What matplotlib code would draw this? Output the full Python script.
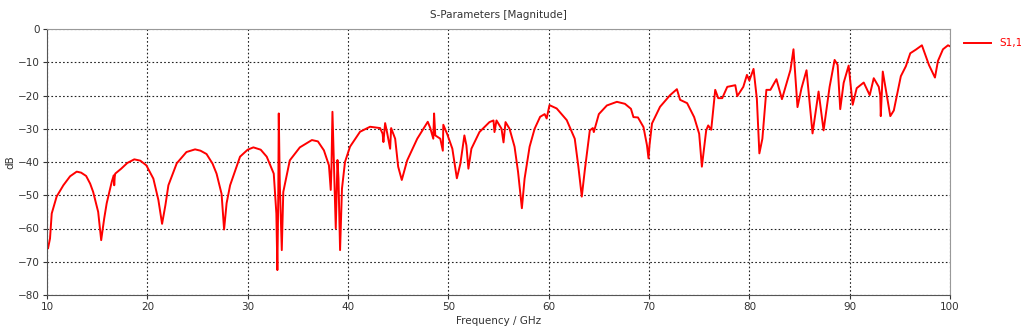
import matplotlib
matplotlib.use("Agg")
import matplotlib.pyplot as plt

# S11 magnitude sweep, frequency in GHz and return loss in dB
freq = [10.0, 10.1, 10.3, 10.47, 10.96, 11.63, 12.3, 12.96, 13.4, 13.9, 14.3, 14.6, 15.1, 15.4,
        15.7, 15.95, 16.45, 16.65, 16.7, 16.75, 16.8, 17.4, 18.0, 18.7, 19.3, 19.9, 20.6, 21.1,
        21.47, 21.8, 22.1, 22.93, 23.9, 24.76, 25.3, 25.9, 26.5, 26.9, 27.4, 27.65, 27.9, 28.25,
        29.24, 30.0, 30.57, 31.3, 31.9, 32.6, 32.86, 32.96, 33.05, 33.1, 33.2, 33.4, 33.55, 34.2,
        35.2, 36.4, 37.0, 37.6, 38.1, 38.28, 38.35, 38.45, 38.6, 38.78, 38.95, 39.05, 39.21, 39.4,
        39.7, 40.2, 41.2, 42.2, 43.2, 43.45, 43.53, 43.7, 43.9, 44.2, 44.3, 44.7, 45.0, 45.36,
        45.9, 46.9, 47.95, 48.2, 48.5, 48.58, 48.7, 49.2, 49.45, 49.5, 49.9, 50.4, 50.85, 51.2,
        51.6, 51.8, 52.0, 52.3, 53.1, 54.1, 54.5, 54.6, 54.8, 55.3, 55.5, 55.7, 56.1, 56.6, 56.95,
        57.33, 57.6, 58.1, 58.6, 59.15, 59.6, 59.8, 60.08, 60.8, 61.8, 62.6, 62.96, 63.3, 63.6,
        64.1, 64.4, 64.5, 65.0, 65.8, 66.8, 67.6, 68.2, 68.45, 68.9, 69.45, 69.8, 69.95, 70.05,
        70.3, 71.1, 72.1, 72.78, 73.1, 73.8, 74.5, 75.0, 75.27, 75.7, 75.9, 76.2, 76.6, 76.9,
        77.3, 77.8, 78.6, 78.8, 79.4, 79.76, 80.0, 80.42, 80.75, 81.0, 81.3, 81.7, 82.1, 82.7,
        83.25, 84.1, 84.4, 84.8, 85.2, 85.7, 86.3, 86.9, 87.4, 88.0, 88.5, 88.8, 89.06, 89.4,
        89.9, 90.3, 90.7, 91.4, 92.0, 92.4, 92.9, 93.05, 93.1, 93.3, 94.05, 94.4, 95.1, 95.6,
        96.04, 96.6, 97.2, 97.9, 98.5, 98.8, 99.3, 99.8, 100.0]
s11_db = [-65.0, -66.0, -63.0, -55.5, -50.4, -47.0, -44.3, -42.9, -43.2, -44.2, -46.5, -49.0, -55.0, -63.5,
          -57.0, -52.4, -46.0, -44.0, -47.0, -44.5, -43.5, -42.0, -40.3, -39.2, -39.6, -41.0, -45.0, -51.4,
          -58.6, -53.0, -47.0, -40.4, -37.0, -36.2, -36.6, -37.6, -40.5, -43.5, -49.6, -60.3, -52.4, -47.0,
          -38.4, -36.3, -35.6, -36.3, -38.4, -43.5, -55.5, -72.5, -50.0, -25.4, -46.3, -66.5, -49.0, -39.5,
          -35.6, -33.4, -33.8, -36.5, -41.0, -48.4, -42.0, -24.9, -41.4, -60.0, -39.4, -45.0, -66.5, -48.0,
          -40.0, -35.4, -30.9, -29.4, -29.8, -31.5, -34.0, -28.3, -31.2, -36.0, -29.8, -33.0, -41.4, -45.4,
          -39.5, -33.0, -27.9, -29.8, -33.0, -25.4, -32.0, -33.0, -36.6, -28.8, -31.7, -36.0, -44.9, -40.5,
          -32.0, -35.0, -42.0, -36.0, -31.0, -28.0, -27.5, -31.0, -27.5, -30.0, -34.1, -28.0, -30.0, -35.4, -43.0,
          -53.9, -45.0, -35.4, -30.0, -26.4, -25.6, -26.9, -22.9, -23.9, -27.4, -33.0, -41.4, -50.4, -42.5,
          -30.5, -29.8, -31.0, -25.6, -23.0, -21.9, -22.5, -24.0, -26.5, -26.6, -29.5, -35.0, -38.9, -35.0,
          -28.4, -23.4, -19.9, -18.1, -21.3, -22.3, -26.5, -31.5, -41.4, -30.5, -29.0, -30.3, -18.3, -20.8,
          -20.8, -17.4, -16.9, -20.2, -17.4, -13.8, -15.5, -12.0, -21.0, -37.4, -33.0, -18.3, -18.3, -15.1,
          -21.1, -12.3, -6.1, -23.5, -17.8, -12.4, -31.4, -18.8, -30.5, -17.4, -9.3, -10.8, -24.1, -16.2,
          -11.0, -22.8, -17.8, -16.1, -19.9, -14.8, -17.4, -20.0, -26.2, -12.8, -26.2, -24.5, -14.2, -11.2,
          -7.3, -6.2, -4.9, -10.8, -14.6, -9.6, -6.1, -4.9, -5.2]

x_ticks = [10, 20, 30, 40, 50, 60, 70, 80, 90, 100]
y_ticks = [0, -10, -20, -30, -40, -50, -60, -70, -80]

plt.rcParams['font.family'] = ['DejaVu Sans']
fig = plt.figure(figsize=(10.21, 3.35), dpi=100)
ax = fig.add_axes([47 / 1021, 40 / 335, 903 / 1021, 266 / 335])

ax.plot(freq, s11_db, color='#ff0000', linewidth=1.4, label='S1,1')

ax.set_xlim(10, 100)
ax.set_ylim(-80, 0)
ax.set_xticks(x_ticks)
ax.set_yticks(y_ticks)
ax.grid(True, color='#222222', linestyle=(0, (1.5, 2)), linewidth=0.8)
ax.tick_params(axis='both', labelsize=7.5, colors='#333333', length=3, width=0.8, pad=2)
for side in ['top', 'right']:
    ax.spines[side].set_color('#999999')
for side in ['left', 'bottom']:
    ax.spines[side].set_color('#555555')

ax.set_title('S-Parameters [Magnitude]', fontsize=7.5, color='#333333', pad=8)
ax.set_xlabel('Frequency / GHz', fontsize=7.5, color='#333333', labelpad=3)
ax.set_ylabel('dB', fontsize=7.5, color='#333333', labelpad=2)

leg = ax.legend(loc='upper left', bbox_to_anchor=(1.005, 1.0), frameon=False,
                fontsize=7.5, handlelength=2.6, handletextpad=0.8)
for t in leg.get_texts():
    t.set_color('#ff0000')

fig.savefig('out.png', dpi=100)
